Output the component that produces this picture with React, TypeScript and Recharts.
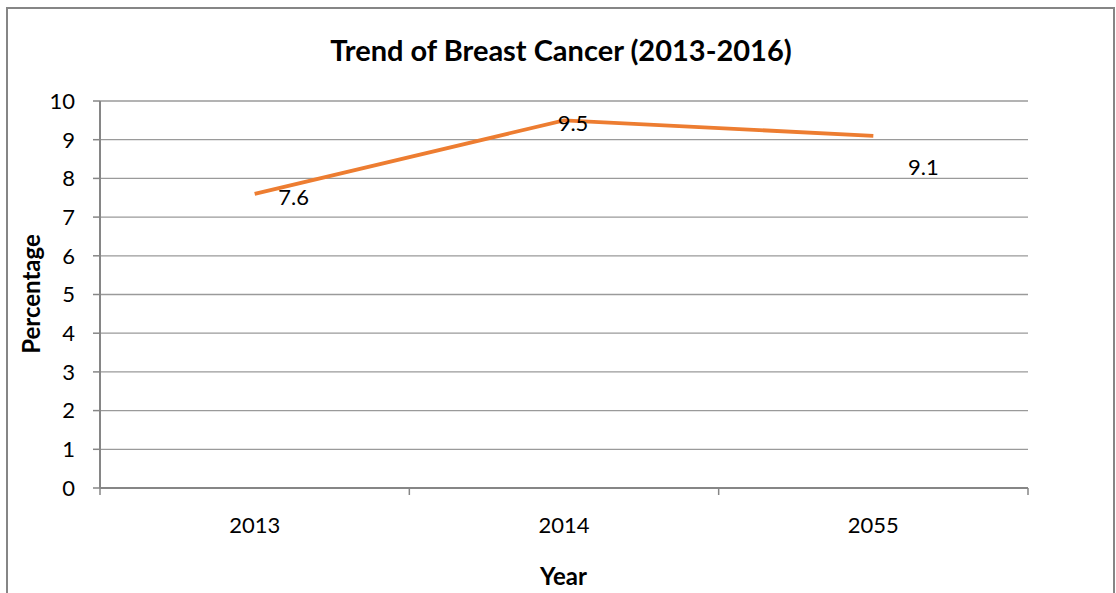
import { CartesianGrid, LabelList, Line, LineChart, XAxis, YAxis } from 'recharts';

const years = ['2013', '2014', '2055'];
const percentages = [7.6, 9.5, 9.1];
const yTicks = [0, 1, 2, 3, 4, 5, 6, 7, 8, 9, 10];

// hand-placed data label offsets, as in the source chart
const labelOffsets = [
  { dx: 39, dy: 3 },
  { dx: 9, dy: 2 },
  { dx: 50, dy: 31 },
];

const data = years.map((year, i) => ({ year, value: percentages[i] }));

const FONT = 'Lato, "Open Sans", sans-serif';
const AXIS = '#868686';
const GRID = '#9a9a9a';

function BandTick(props: any) {
  const { x, y, payload, index } = props;
  const half = payload?.offset ?? 0;
  const last = index === years.length - 1;
  return (
    <g>
      <line x1={x - half} x2={x - half} y1={y - 8} y2={y - 1} stroke={AXIS} strokeWidth={1.5} />
      {last && (
        <line x1={x + half} x2={x + half} y1={y - 8} y2={y - 1} stroke={AXIS} strokeWidth={1.5} />
      )}
      <text x={x} y={y + 37} textAnchor="middle" fontSize={22} fontFamily={FONT} fill="#000">
        {payload.value}
      </text>
    </g>
  );
}

function PointLabel(props: any) {
  const { x, y, value, index } = props;
  const off = labelOffsets[index] ?? { dx: 0, dy: 0 };
  return (
    <text
      x={x + off.dx}
      y={y + off.dy}
      textAnchor="middle"
      dominantBaseline="central"
      fontSize={22}
      fontFamily={FONT}
      fill="#000"
    >
      {value}
    </text>
  );
}

export default function App() {
  return (
    <div style={{ position: 'absolute', left: 0, top: 0, width: 1116, height: 593, background: '#fff', overflow: 'hidden' }}>
      <div
        style={{
          position: 'absolute',
          left: 6,
          top: 7,
          width: 1105,
          height: 620,
          border: `2px solid ${AXIS}`,
        }}
      />
      <div
        style={{
          position: 'absolute',
          left: 0,
          top: 32,
          width: 1122,
          textAlign: 'center',
          fontFamily: FONT,
          fontWeight: 700,
          fontSize: 29,
          lineHeight: '36px',
        }}
      >
        Trend of Breast Cancer (2013-2016)
      </div>
      <div
        style={{
          position: 'absolute',
          left: 30,
          top: 294,
          transform: 'translate(-50%, -50%) rotate(-90deg)',
          fontFamily: FONT,
          fontWeight: 700,
          fontSize: 24,
          whiteSpace: 'nowrap',
        }}
      >
        Percentage
      </div>
      <div
        style={{
          position: 'absolute',
          left: 0,
          top: 561,
          width: 1127,
          textAlign: 'center',
          fontFamily: FONT,
          fontWeight: 700,
          fontSize: 24,
          lineHeight: '30px',
        }}
      >
        Year
      </div>
      <LineChart
        width={1116}
        height={593}
        data={data}
        margin={{ top: 101, right: 88, left: 0, bottom: 45 }}
        style={{ position: 'absolute', left: 0, top: 0 }}
      >
        <CartesianGrid horizontal vertical={false} stroke={GRID} strokeWidth={1.3} />
        <XAxis
          dataKey="year"
          scale="band"
          height={60}
          tickLine={false}
          axisLine={{ stroke: AXIS, strokeWidth: 2 }}
          tick={<BandTick />}
          interval={0}
        />
        <YAxis
          width={100}
          domain={[0, 10]}
          ticks={yTicks}
          interval={0}
          tickSize={7}
          tickMargin={18}
          tickLine={{ stroke: AXIS, strokeWidth: 1.5 }}
          axisLine={{ stroke: AXIS, strokeWidth: 2 }}
          tick={{ fill: '#000', fontSize: 22, fontFamily: FONT }}
        />
        <Line
          type="linear"
          dataKey="value"
          stroke="#ED7D31"
          strokeWidth={3.8}
          dot={false}
          activeDot={false}
          isAnimationActive={false}
        >
          <LabelList dataKey="value" content={<PointLabel />} />
        </Line>
      </LineChart>
    </div>
  );
}
